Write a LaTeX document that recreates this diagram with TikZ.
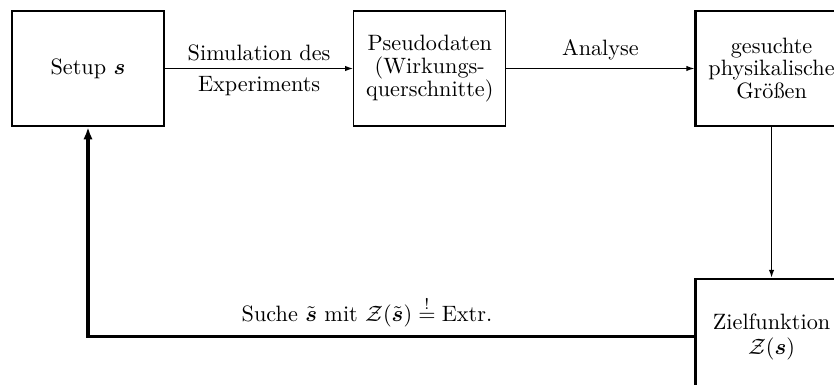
\documentclass[tikz,border=0pt]{standalone}
\usepackage{amsmath}
\usepackage{amssymb}
\usetikzlibrary{arrows.meta, positioning}
\tikzset{
    box/.style={draw, line width=1pt, minimum width=68.4pt, minimum height=51.75pt, inner sep=2pt, align=center, font=\fontsize{10}{10.2}\selectfont},
    thinbox/.style={box, line width=0.6pt},
    arrow/.style={-{Latex[length=3.6pt,width=2.4pt]}, line width=0.5pt},
    feedback/.style={-{Latex[length=5.5pt,width=4.2pt]}, line width=1.6pt}
}

\begin{document}
\begin{tikzpicture}[x=0.45pt, y=-0.45pt]
    \useasboundingbox (0,0) rectangle (834,385);

    % --- upper row ---
    \node[box] (setup) at (88,68.5) {Setup $\boldsymbol{s}$};
    \node[thinbox, right=84.6pt of setup] (pseudo) {Pseudodaten\\(Wirkungs-\\querschnitte)};
    \node[box, right=84.6pt of pseudo] (groessen) {gesuchte\\physikalische\\Gr\"o\ss en};

    \draw[arrow] (setup) -- node[above]{Simulation des} node[below]{Experiments} (pseudo);
    \draw[arrow] (pseudo) -- node[above]{Analyse} (groessen);

    % --- objective function ---
    \node[box, below=67.9pt of groessen] (ziel) {Zielfunktion\\[1pt]$\mathcal{Z}(\boldsymbol{s})$};
    \draw[arrow, line width=0.7pt] (groessen) -- (ziel);

    % feedback loop
    \coordinate (corner) at (setup.south |- ziel.west);
    \draw[feedback] (ziel.west) -- node[above, pos=0.54]{Suche $\tilde{\boldsymbol{s}}$ mit $\mathcal{Z}(\tilde{\boldsymbol{s}}) \stackrel{!}{=} \text{Extr.}$} (corner) -- (setup.south);
\end{tikzpicture}
\end{document}
